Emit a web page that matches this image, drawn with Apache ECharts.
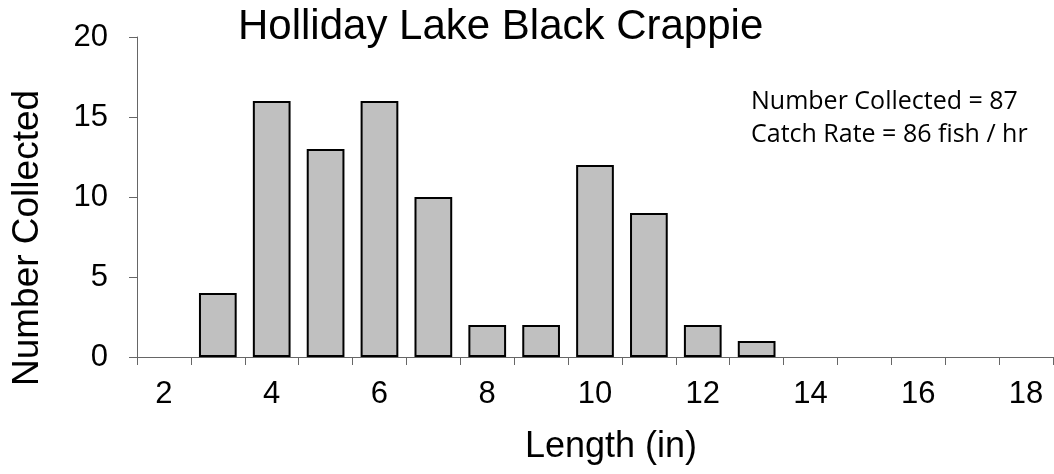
<!DOCTYPE html>
<html><head><meta charset="utf-8">
<script src="https://cdn.jsdelivr.net/npm/echarts@6/dist/echarts.min.js"></script>
<style>html,body{margin:0;padding:0;background:#fff}#c{width:1054px;height:474px}</style>
</head><body><div id="c"></div>
<script>
const categories = ['2','3','4','5','6','7','8','9','10','11','12','13','14','15','16','17','18'];
const counts = [0,4,16,13,16,10,2,2,12,9,2,1,0,0,0,0,0];
const yTicks = [0,5,10,15,20];
const titleText = 'Holliday Lake Black Crappie';
const noteLines = ['Number Collected = 87','Catch Rate = 86 fish / hr'];
const xName = 'Length (in)';
const yName = 'Number Collected';

const chart = echarts.init(document.getElementById('c'), null, {renderer:'canvas'});
chart.setOption({
  animation:false,
  backgroundColor:'#fff',
  graphic:[
    {type:'text',x:238,y:27,style:{text:titleText,fontFamily:'Liberation Sans',fontSize:42,fill:'#000',textAlign:'left',textVerticalAlign:'middle'}},
    {type:'text',x:751,y:85,style:{text:noteLines.join('\n'),fontFamily:'Open Sans',fontSize:25,lineHeight:33,fill:'#000'}},
    {type:'text',x:28,y:238,rotation:Math.PI/2,style:{text:yName,fontFamily:'Liberation Sans',fontSize:37,fill:'#000',textAlign:'center',textVerticalAlign:'middle'}},
    {type:'text',x:611,y:447,style:{text:xName,fontFamily:'Liberation Sans',fontSize:36,fill:'#000',textAlign:'center',textVerticalAlign:'middle'}}
  ],
  grid:{left:137,right:1,top:37,bottom:117,containLabel:false},
  xAxis:{type:'category',data:categories,boundaryGap:true,
    axisLine:{lineStyle:{color:'#666',width:1}},
    axisTick:{show:true,interval:0,length:8,lineStyle:{color:'#666'}},
    axisLabel:{interval:1,margin:22,fontFamily:'Liberation Sans',fontSize:31,color:'#000'},
    splitLine:{show:false}},
  yAxis:{type:'value',min:yTicks[0],max:yTicks[yTicks.length-1],interval:5,
    axisLine:{show:true,lineStyle:{color:'#666',width:1}},
    axisTick:{show:true,length:8,lineStyle:{color:'#666'}},
    axisLabel:{margin:29,fontFamily:'Liberation Sans',fontSize:31,color:'#000'},
    splitLine:{show:false}},
  series:[{type:'bar',data:counts.map(v => v === 0 ? '-' : v),barCategoryGap:'30%',
    itemStyle:{color:'#c0c0c0',borderColor:'#000',borderWidth:2}}]
});
</script></body></html>
